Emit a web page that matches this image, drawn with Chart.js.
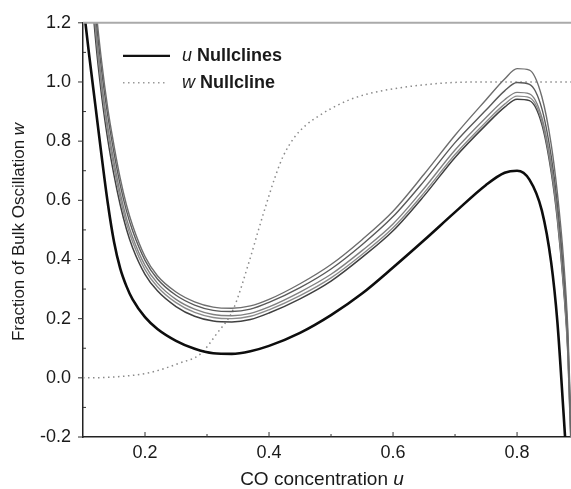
<!DOCTYPE html>
<html>
<head>
<meta charset="utf-8">
<script src="https://cdn.jsdelivr.net/npm/chart.js@4.4.0/dist/chart.umd.min.js"></script>
<style>
  html, body { margin: 0; padding: 0; background: #fff; }
  #wrap { width: 571px; height: 489px; }
</style>
</head>
<body>
<div id="wrap"><canvas id="myChart" width="571" height="489"></canvas></div>
<script>
// CO concentration grid shared by the u nullclines
const uGrid = [0.10, 0.11, 0.12, 0.13, 0.14, 0.15, 0.16, 0.17, 0.18,
  0.20, 0.22, 0.25, 0.28, 0.31, 0.34, 0.37, 0.40,
  0.45, 0.50, 0.55, 0.60, 0.65, 0.70, 0.75,
  0.78, 0.80, 0.82, 0.84, 0.855, 0.865, 0.875, 0.882, 0.89];

// thick u nullcline
const uNullLow = [1.27, 1.09, 0.92, 0.75, 0.59, 0.46, 0.37, 0.31, 0.265,
  0.205, 0.165, 0.125, 0.098, 0.083, 0.081, 0.09, 0.108,
  0.152, 0.212, 0.285, 0.373, 0.465, 0.56, 0.652,
  0.693, 0.70, 0.67, 0.565, 0.39, 0.19, -0.12, -0.35, -0.6];

// family of upper u nullclines
const uNullA = [2.0, 1.56, 1.27, 1.07, 0.91, 0.785, 0.675, 0.585, 0.515,
  0.41, 0.345, 0.29, 0.257, 0.239, 0.235, 0.243, 0.265,
  0.318, 0.383, 0.467, 0.563, 0.688, 0.82, 0.94,
  1.01, 1.045, 1.04, 0.95, 0.79, 0.625, 0.40, 0.16, -0.35];
const uNullB = [1.95, 1.52, 1.24, 1.04, 0.885, 0.76, 0.652, 0.565, 0.497,
  0.397, 0.334, 0.279, 0.246, 0.228, 0.224, 0.232, 0.255,
  0.305, 0.368, 0.45, 0.545, 0.665, 0.795, 0.905,
  0.97, 0.998, 0.992, 0.91, 0.75, 0.59, 0.36, 0.13, -0.38];
const uNullC = [1.9, 1.48, 1.2, 1.0, 0.85, 0.73, 0.625, 0.54, 0.475,
  0.38, 0.32, 0.265, 0.232, 0.214, 0.21, 0.218, 0.24,
  0.29, 0.35, 0.43, 0.52, 0.64, 0.77, 0.88,
  0.94, 0.965, 0.96, 0.88, 0.72, 0.56, 0.33, 0.10, -0.4];
const uNullD = [1.87, 1.45, 1.18, 0.98, 0.83, 0.71, 0.607, 0.523, 0.46,
  0.366, 0.308, 0.254, 0.221, 0.204, 0.2, 0.208, 0.23,
  0.278, 0.338, 0.417, 0.507, 0.625, 0.755, 0.865,
  0.925, 0.952, 0.947, 0.867, 0.707, 0.545, 0.315, 0.09, -0.42];
const uNullE = [1.84, 1.42, 1.15, 0.955, 0.805, 0.685, 0.585, 0.503, 0.44,
  0.35, 0.294, 0.241, 0.208, 0.192, 0.189, 0.197, 0.219,
  0.267, 0.327, 0.407, 0.497, 0.615, 0.745, 0.855,
  0.915, 0.942, 0.937, 0.857, 0.697, 0.535, 0.305, 0.08, -0.43];

// w nullcline (dotted sigmoid)
const wNullU = [0.10, 0.1435, 0.208, 0.256, 0.289, 0.316, 0.342, 0.369, 0.383, 0.397, 0.41,
  0.423, 0.44, 0.46, 0.48, 0.50, 0.53, 0.56, 0.61, 0.687, 0.75, 0.887];
const wNullW = [0, 0.002, 0.018, 0.05, 0.08, 0.15, 0.23, 0.40, 0.50, 0.596, 0.68,
  0.75, 0.81, 0.855, 0.885, 0.91, 0.94, 0.96, 0.98, 0.997, 1.0, 1.0];

const xTicks = [0.2, 0.4, 0.6, 0.8];
const xMinor = [0.3, 0.5, 0.7];
const yTicks = [-0.2, 0, 0.2, 0.4, 0.6, 0.8, 1.0, 1.2];
const yMinor = [-0.1, 0.1, 0.3, 0.5, 0.7, 0.9, 1.1];

const FONT = "Arial, 'Liberation Sans', sans-serif";

function pts(us, ws) {
  return us.map((u, i) => ({ x: u, y: ws[i] }));
}

function curve(ws, color, width) {
  return {
    data: pts(uGrid, ws),
    borderColor: color,
    borderWidth: width,
    pointRadius: 0,
    cubicInterpolationMode: 'monotone',
    fill: false
  };
}

// ticks, frame, axis titles and legend
const decor = {
  id: 'decor',
  afterDraw(chart) {
    const { ctx, chartArea: a, scales: { x, y } } = chart;
    const line = (x1, y1, x2, y2) => { ctx.beginPath(); ctx.moveTo(x1, y1); ctx.lineTo(x2, y2); ctx.stroke(); };
    ctx.save();

    ctx.strokeStyle = '#aaaaaa';
    ctx.lineWidth = 2;
    line(a.left, a.top, a.right, a.top);

    ctx.strokeStyle = '#333';
    ctx.lineWidth = 1;
    yTicks.forEach(v => { const py = y.getPixelForValue(v); line(a.left - 5, py, a.left, py); });
    yMinor.forEach(v => { const py = y.getPixelForValue(v); line(a.left, py, a.left + 3, py); });
    xTicks.forEach(v => { const px = x.getPixelForValue(v); line(px, a.bottom, px, a.bottom - 5); });
    xMinor.forEach(v => { const px = x.getPixelForValue(v); line(px, a.bottom, px, a.bottom - 3); });

    ctx.fillStyle = '#1a1a1a';
    ctx.textBaseline = 'middle';
    ctx.textAlign = 'left';

    // draws plain text followed by an italic symbol, centred on (cx, cy)
    const mixed = (plain, sym, cx, cy, size) => {
      ctx.font = size + 'px ' + FONT;
      const wa = ctx.measureText(plain).width;
      ctx.font = 'italic ' + size + 'px ' + FONT;
      const wb = ctx.measureText(sym).width;
      const sx = cx - (wa + wb) / 2;
      ctx.font = size + 'px ' + FONT;
      ctx.fillText(plain, sx, cy);
      ctx.font = 'italic ' + size + 'px ' + FONT;
      ctx.fillText(sym, sx + wa, cy);
    };

    mixed('CO concentration ', 'u', 322, 480, 19);

    ctx.save();
    ctx.translate(19, 232);
    ctx.rotate(-Math.PI / 2);
    mixed('Fraction of Bulk Oscillation ', 'w', 0, 0, 17);
    ctx.restore();

    // legend
    const lx = a.left + 40, ly = a.top + 33;
    ctx.strokeStyle = '#111';
    ctx.lineWidth = 2.2;
    line(lx, ly, lx + 47, ly);
    ctx.strokeStyle = '#999';
    ctx.lineWidth = 1.5;
    ctx.setLineDash([1.5, 3.5]);
    line(lx, ly + 27, lx + 43, ly + 27);
    ctx.setLineDash([]);

    const legendRow = (varName, label, ty) => {
      ctx.font = 'italic 18px ' + FONT;
      ctx.fillText(varName, lx + 59, ty);
      const vw = ctx.measureText(varName + ' ').width;
      ctx.font = 'bold 18px ' + FONT;
      ctx.fillText(label, lx + 59 + vw, ty);
    };
    legendRow('u', 'Nullclines', ly);
    legendRow('w', 'Nullcline', ly + 27);

    ctx.restore();
  }
};

const data = {
  datasets: [
    curve(uNullA, '#6e6e6e', 1.4),
    curve(uNullB, '#5a5a5a', 1.4),
    curve(uNullC, '#808080', 1.4),
    curve(uNullD, '#8c8c8c', 1.4),
    curve(uNullE, '#404040', 1.5),
    curve(uNullLow, '#0d0d0d', 2.6),
    {
      data: pts(wNullU, wNullW),
      borderColor: '#8a8a8a',
      borderWidth: 1.5,
      borderDash: [1.5, 3.5],
      pointRadius: 0,
      cubicInterpolationMode: 'monotone',
      fill: false
    }
  ]
};

const config = {
  type: 'line',
  data: data,
  options: {
    responsive: false,
    animation: false,
    layout: { padding: { left: 0, right: 0, top: 20, bottom: 0 } },
    plugins: { legend: { display: false }, tooltip: { enabled: false } },
    scales: {
      x: {
        type: 'linear',
        min: 0.1,
        max: 0.887,
        afterBuildTicks: s => { s.ticks = xTicks.map(v => ({ value: v })); },
        afterFit: s => { s.height = 52; },
        grid: { drawOnChartArea: false, drawTicks: false },
        border: { color: '#222', width: 1.5 },
        ticks: {
          padding: 5,
          color: '#1a1a1a',
          font: { family: FONT, size: 18 },
          callback: v => v.toFixed(1)
        }
      },
      y: {
        min: -0.2,
        max: 1.2,
        afterBuildTicks: s => { s.ticks = yTicks.map(v => ({ value: v })); },
        afterFit: s => { s.width = 83; },
        grid: { drawOnChartArea: false, drawTicks: false },
        border: { color: '#222', width: 1.5 },
        ticks: {
          padding: 12,
          color: '#1a1a1a',
          font: { family: FONT, size: 18 },
          callback: v => v.toFixed(1)
        }
      }
    }
  },
  plugins: [decor]
};

const myChart = new Chart(document.getElementById('myChart'), config);
</script>
</body>
</html>
